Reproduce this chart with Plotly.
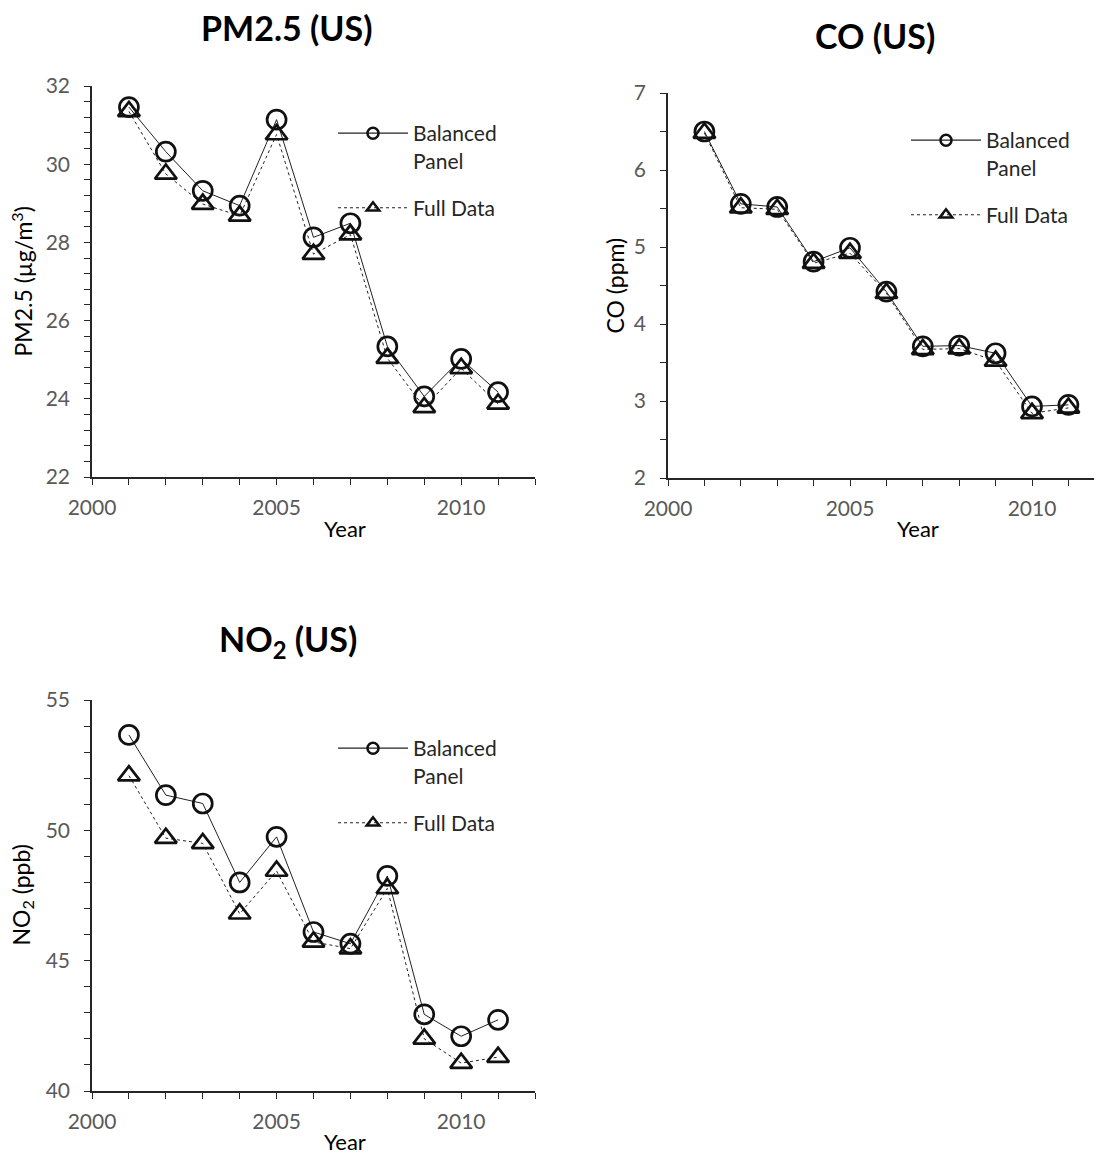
import plotly.graph_objects as go

years = [2001, 2002, 2003, 2004, 2005, 2006, 2007, 2008, 2009, 2010, 2011]

pm25_balanced = [31.46, 30.32, 29.32, 28.94, 31.14, 28.13, 28.49, 25.34, 24.06, 25.02, 24.17]
pm25_full = [31.35, 29.75, 28.98, 28.68, 30.76, 27.70, 28.20, 25.04, 23.78, 24.78, 23.87]

co_balanced = [6.50, 5.56, 5.52, 4.81, 4.99, 4.42, 3.71, 3.72, 3.62, 2.93, 2.95]
co_full = [6.48, 5.51, 5.49, 4.79, 4.92, 4.40, 3.67, 3.68, 3.52, 2.84, 2.91]

no2_balanced = [53.66, 51.35, 51.03, 48.00, 49.75, 46.10, 45.65, 48.25, 42.94, 42.10, 42.73]
no2_full = [52.10, 49.70, 49.50, 46.80, 48.44, 45.72, 45.46, 47.77, 42.00, 41.07, 41.30]

OFF = 8  # page body margin
W, H = 1102 - OFF, 1155 - OFF
FONT = "Lato"
AX = "#262626"
TICKC = "#595959"

def px(x):
    return (x - OFF) / W

def py(y):
    return 1 - (y - OFF) / H

panels = [
    dict(name="pm", xa="x", ya="y", bal=pm25_balanced, full=pm25_full,
         xdom=[px(92), px(535)], ydom=[py(477), py(86)], xrange=[2000, 2012],
         yrange=[22, 32], ydt=2, ymin=0.4, legend="legend",
         title="<b>PM2.5 (US)</b>", tx=px(287), ty=py(27),
         ytitle="PM2.5 (µg/m<sup>3</sup>)", ytx=px(22), yearx=px(345), yeary=py(528),
         leg=(px(333), py(113))),
    dict(name="co", xa="x2", ya="y2", bal=co_balanced, full=co_full,
         xdom=[px(668), 1.0], ydom=[py(478), py(93)], xrange=[2000, 2000 + (1102 - 668) / 36.4],
         yrange=[2, 7], ydt=1, ymin=0.5, legend="legend2",
         title="<b>CO (US)</b>", tx=px(875), ty=py(35),
         ytitle="CO (ppm)", ytx=px(614), yearx=px(918), yeary=py(528),
         leg=(px(906), py(120))),
    dict(name="no2", xa="x3", ya="y3", bal=no2_balanced, full=no2_full,
         xdom=[px(92), px(535)], ydom=[py(1091), py(700)], xrange=[2000, 2012],
         yrange=[40, 55], ydt=5, ymin=1, legend="legend3",
         title="<b>NO<sub>2</sub> (US)</b>", tx=px(288), ty=py(641),
         ytitle="NO<sub>2</sub> (ppb)", ytx=px(22), yearx=px(345), yeary=py(1141),
         leg=(px(333), py(728))),
]

fig = go.Figure()

for i, p in enumerate(panels):
    fig.add_trace(go.Scatter(
        x=years, y=p["bal"], xaxis=p["xa"], yaxis=p["ya"],
        mode="lines+markers", name="Balanced<br>Panel", showlegend=False,
        line=dict(color="#222222", width=1),
        marker=dict(symbol="circle-open", size=19, color="#111111", line=dict(width=2.7)),
        hoverinfo="skip"))
    fig.add_trace(go.Scatter(
        x=years, y=p["full"], xaxis=p["xa"], yaxis=p["ya"],
        mode="lines+markers", name="Full Data", showlegend=False,
        line=dict(color="#222222", width=1, dash="dot"),
        marker=dict(symbol="triangle-up-open", size=19, color="#111111", line=dict(width=2.7)),
        hoverinfo="skip"))
    # legend entries (no points of their own)
    fig.add_trace(go.Scatter(
        x=[None], y=[None], xaxis=p["xa"], yaxis=p["ya"],
        mode="lines+markers", name="Balanced<br>Panel", legend=p["legend"],
        legendgroup=p["name"] + "b", showlegend=True, hoverinfo="skip",
        line=dict(color="#222222", width=1.2),
        marker=dict(symbol="circle-open", size=11, color="#111111", line=dict(width=2.5))))
    fig.add_trace(go.Scatter(
        x=[None], y=[None], xaxis=p["xa"], yaxis=p["ya"],
        mode="lines+markers", name="Full Data", legend=p["legend"],
        legendgroup=p["name"] + "f", showlegend=True, hoverinfo="skip",
        line=dict(color="#222222", width=1, dash="dot"),
        marker=dict(symbol="triangle-up-open", size=11, color="#111111", line=dict(width=2.5))))

layout = dict(
    width=W, height=H, margin=dict(l=0, r=0, t=0, b=0, autoexpand=False),
    paper_bgcolor="white", plot_bgcolor="white",
    font=dict(family=FONT, color=AX),
    annotations=[],
)

for i, p in enumerate(panels):
    k = "" if i == 0 else str(i + 1)
    ok = str(i + 4)
    common_x = dict(range=p["xrange"], domain=p["xdom"], showgrid=False, zeroline=False,
                    automargin=False, fixedrange=True,
                    dtick=5, tick0=2000, ticklen=6, tickwidth=1.3, tickcolor=AX,
                    minor=dict(dtick=1, ticklen=6, tickwidth=1.3, tickcolor=AX, showgrid=False))
    common_y = dict(range=p["yrange"], domain=p["ydom"], showgrid=False, zeroline=False,
                    automargin=False, fixedrange=True,
                    dtick=p["ydt"], tick0=p["yrange"][0], ticklen=6, tickwidth=1.3, tickcolor=AX,
                    minor=dict(dtick=p["ymin"], ticklen=6, tickwidth=1.3, tickcolor=AX, showgrid=False))
    layout["xaxis" + k] = dict(common_x, anchor="y" + k, showline=True, linecolor=AX, linewidth=1.5,
                               ticks="outside", minor=dict(common_x["minor"], ticks="outside"),
                               tickfont=dict(family=FONT, size=21, color=TICKC), ticklabelstandoff=5)
    layout["yaxis" + k] = dict(common_y, anchor="x" + k, showline=True, linecolor=AX, linewidth=1.5,
                               ticks="outside", minor=dict(common_y["minor"], ticks="outside"),
                               tickfont=dict(family=FONT, size=21, color=TICKC), ticklabelstandoff=10)
    # overlay axes to draw the inner half of the crossing ticks
    layout["xaxis" + ok] = dict(common_x, anchor="y" + k, overlaying="x" + k, showline=False,
                                showticklabels=False, ticks="inside",
                                minor=dict(common_x["minor"], ticks="inside"))
    layout["yaxis" + ok] = dict(common_y, anchor="x" + k, overlaying="y" + k, showline=False,
                                showticklabels=False, ticks="inside",
                                minor=dict(common_y["minor"], ticks="inside"))
    layout[p["legend"]] = dict(x=p["leg"][0], y=p["leg"][1], xanchor="left", yanchor="top",
                               bgcolor="rgba(0,0,0,0)", font=dict(family=FONT, size=21, color=AX),
                               itemwidth=70, valign="top", tracegroupgap=17)
    layout["annotations"] += [
        dict(text=p["title"], x=p["tx"], y=p["ty"], xref="paper", yref="paper",
             showarrow=False, xanchor="center", yanchor="middle",
             font=dict(family=FONT, size=34, color="#000000")),
        dict(text=p["ytitle"], x=p["ytx"], y=(p["ydom"][0] + p["ydom"][1]) / 2,
             xref="paper", yref="paper", showarrow=False, textangle=-90,
             xanchor="center", yanchor="middle",
             font=dict(family=FONT, size=23, color="#000000")),
        dict(text="Year", x=p["yearx"], y=p["yeary"], xref="paper", yref="paper",
             showarrow=False, xanchor="center", yanchor="middle",
             font=dict(family=FONT, size=22, color="#000000")),
    ]

fig.update_layout(**layout)
fig.write_html("out.html")
